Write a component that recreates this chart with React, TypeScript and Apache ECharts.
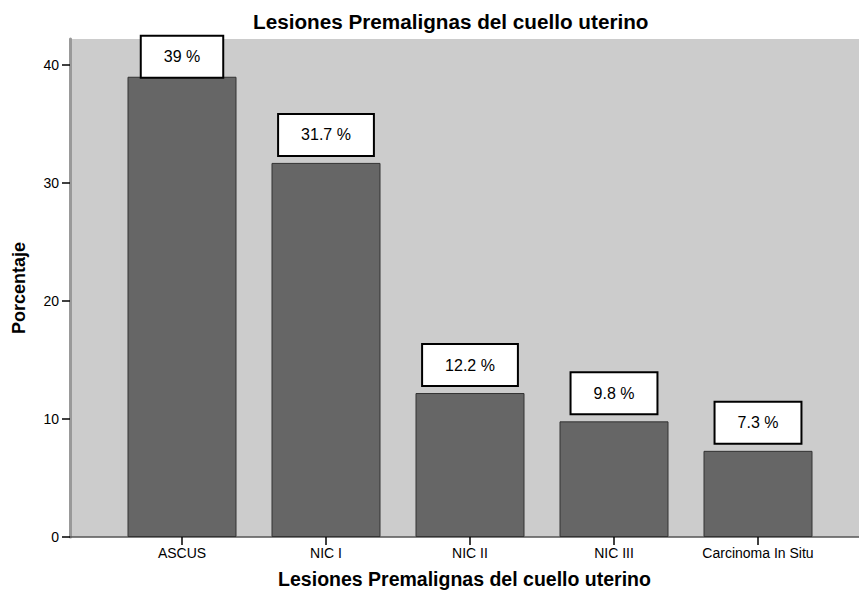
import React, { useEffect, useRef } from "react";
import * as echarts from "echarts";

const categories = ["ASCUS", "NIC I", "NIC II", "NIC III", "Carcinoma In Situ"];
const percentages = [39, 31.7, 12.2, 9.8, 7.3];
const yMax = 42.2;
const yTickInterval = 10;
const titleText = "Lesiones Premalignas del cuello uterino";
const xAxisName = "Lesiones Premalignas del cuello uterino";
const yAxisName = "Porcentaje";

export default function App() {
  const ref = useRef<HTMLDivElement>(null);
  useEffect(() => {
    if (!ref.current) return;
    const chart = echarts.init(ref.current, undefined, { renderer: "svg" });
    const maxVal = Math.max(...percentages);
    chart.setOption({
      animation: false,
      backgroundColor: "#ffffff",
      textStyle: { fontFamily: "Liberation Sans, Arial, sans-serif" },
      title: {
        text: titleText,
        left: 253,
        top: 11,
        padding: 0,
        textStyle: {
          fontFamily: "Liberation Sans, Arial, sans-serif",
          fontWeight: "bold",
          fontSize: 20.7,
          color: "#000",
        },
      },
      grid: [
        {
          left: 70,
          right: 0,
          top: 39,
          bottom: 55,
          show: true,
          backgroundColor: "#cccccc",
          borderWidth: 0,
          containLabel: false,
          outerBoundsMode: "none",
        },
        {
          left: 110,
          right: 29,
          top: 39,
          bottom: 55,
          containLabel: false,
          outerBoundsMode: "none",
        },
      ],
      xAxis: [
        {
          gridIndex: 0,
          type: "value",
          min: 0,
          max: 1,
          axisLine: { show: true, lineStyle: { color: "#555555", width: 1.5 } },
          axisTick: { show: false },
          axisLabel: { show: false },
          splitLine: { show: false },
          name: xAxisName,
          nameLocation: "middle",
          nameGap: 32,
          nameTextStyle: {
            fontFamily: "Liberation Sans, Arial, sans-serif",
            fontWeight: "bold",
            fontSize: 19.5,
            lineHeight: 20,
            color: "#000",
          },
        },
        {
          gridIndex: 1,
          type: "category",
          data: categories,
          axisLine: { show: false },
          axisTick: {
            show: true,
            alignWithLabel: true,
            length: 8,
            lineStyle: { color: "#000", width: 1.5 },
          },
          axisLabel: { fontSize: 14, color: "#000", margin: 9, interval: 0, hideOverlap: false },
          splitLine: { show: false },
        },
      ],
      yAxis: [
        {
          gridIndex: 0,
          type: "value",
          min: 0,
          max: yMax,
          interval: yTickInterval,
          axisLine: { show: true, lineStyle: { color: "#999999", width: 3 } },
          axisTick: { show: true, length: 8, lineStyle: { color: "#000", width: 1.5 } },
          axisLabel: { fontSize: 14, color: "#000", margin: 11, showMaxLabel: false },
          splitLine: { show: false },
          name: yAxisName,
          nameLocation: "middle",
          nameGap: 42,
          nameTextStyle: {
            fontFamily: "Liberation Sans, Arial, sans-serif",
            fontWeight: "bold",
            fontSize: 18,
            color: "#000",
          },
        },
        {
          gridIndex: 1,
          type: "value",
          min: 0,
          max: yMax,
          show: false,
          splitLine: { show: false },
        },
      ],
      series: [
        {
          type: "bar",
          xAxisIndex: 1,
          yAxisIndex: 1,
          barWidth: 109,
          data: percentages.map((v) =>
            v === maxVal ? { value: v, label: { distance: 0 } } : v
          ),
          itemStyle: { color: "#666666", borderColor: "#333333", borderWidth: 1 },
          label: {
            show: true,
            position: "top",
            distance: 8,
            formatter: "{c} %",
            fontFamily: "Liberation Sans, Arial, sans-serif",
            fontSize: 16,
            lineHeight: 16,
            color: "#000",
            backgroundColor: "#ffffff",
            borderColor: "#000000",
            borderWidth: 2,
            padding: [12, 22],
          },
        },
      ],
    });
    return () => chart.dispose();
  }, []);
  return <div ref={ref} style={{ width: 859, height: 592, position: "absolute", left: 0, top: 0 }} />;
}
